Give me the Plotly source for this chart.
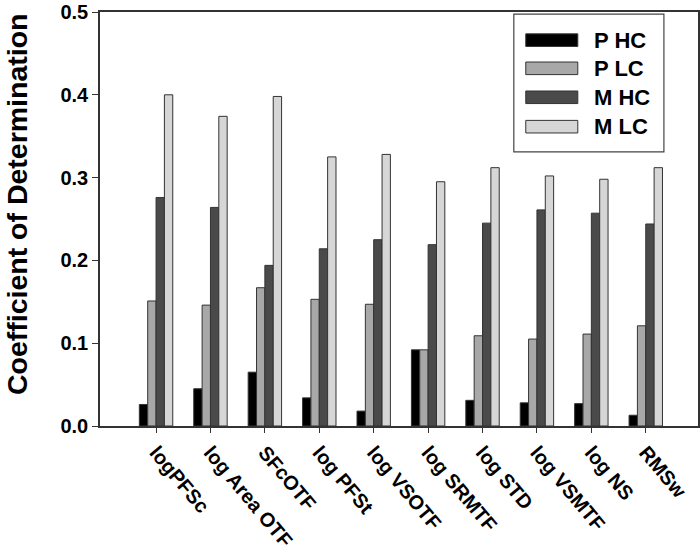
import plotly.graph_objects as go

categories = ["logPFSc", "log Area OTF", "SFcOTF", "log PFSt", "log VSOTF",
              "log SRMTF", "log STD", "log VSMTF", "log NS", "RMSw"]
series_names = ["P HC", "P LC", "M HC", "M LC"]
p_hc = [0.026, 0.045, 0.065, 0.034, 0.018, 0.092, 0.031, 0.028, 0.027, 0.013]
p_lc = [0.151, 0.146, 0.167, 0.153, 0.147, 0.092, 0.109, 0.105, 0.111, 0.121]
m_hc = [0.276, 0.264, 0.194, 0.214, 0.225, 0.219, 0.245, 0.261, 0.257, 0.244]
m_lc = [0.400, 0.374, 0.398, 0.325, 0.328, 0.295, 0.312, 0.302, 0.298, 0.312]
y_ticks = [0.0, 0.1, 0.2, 0.3, 0.4, 0.5]
y_ticklabels = ["0.0", "0.1", "0.2", "0.3", "0.4", "0.5"]
y_title = "Coefficient of Determination"

colors = ["#000000", "#a8a8a8", "#4a4a4a", "#d6d6d6"]
values = [p_hc, p_lc, m_hc, m_lc]

FONT = "Liberation Sans, Arial, sans-serif"

fig = go.Figure()
for name, vals, col in zip(series_names, values, colors):
    fig.add_trace(go.Bar(
        x=categories, y=vals, name=name, showlegend=False,
        marker=dict(color=col, line=dict(color="#333333", width=1)),
    ))

# custom legend (wide swatches like the original)
box = dict(x0=0.692, x1=0.943, y0=0.662, y1=0.995)
fig.add_shape(type="rect", xref="paper", yref="paper", **box,
              line=dict(color="#444444", width=1.2), fillcolor="white")
row_y = [0.932, 0.864, 0.794, 0.723]
hh = 0.0152
for name, col, yc in zip(series_names, colors, row_y):
    fig.add_shape(type="rect", xref="paper", yref="paper",
                  x0=0.712, x1=0.799, y0=yc - hh, y1=yc + hh,
                  fillcolor=col, line=dict(color="#333333", width=1))
    fig.add_annotation(xref="paper", yref="paper", x=0.823, y=yc,
                       text=name, showarrow=False, xanchor="left", yanchor="middle",
                       font=dict(family=FONT, size=22, color="black", weight="bold"))

# y-axis title
fig.add_annotation(xref="paper", yref="paper", x=-0.1388, y=0.536,
                   text=y_title, textangle=-90, showarrow=False,
                   xanchor="center", yanchor="middle",
                   font=dict(family=FONT, size=28.5, color="black", weight="bold"))

fig.update_layout(
    width=700, height=553,
    margin=dict(l=100, r=2, t=12, b=127, autoexpand=False),
    plot_bgcolor="white", paper_bgcolor="white",
    barmode="group", bargap=0.386, bargroupgap=0,
    font=dict(family=FONT, color="black"),
)
fig.update_xaxes(
    type="category", range=[-1.03, 9.96], automargin=False,
    showline=True, linecolor="#333333", linewidth=1.5, mirror=True,
    ticks="outside", ticklen=5, tickcolor="#333333", tickwidth=1,
    tickangle=50, showgrid=False, ticklabeloverflow="allow",
    tickfont=dict(family=FONT, size=20, color="black", weight="bold"),
)
fig.update_yaxes(
    range=[0, 0.5], tickvals=y_ticks, ticktext=y_ticklabels, automargin=False,
    showline=True, linecolor="#333333", linewidth=1.5, mirror=True,
    ticks="outside", ticklen=6, tickcolor="#333333", tickwidth=1,
    showgrid=False, zeroline=False, ticklabeloverflow="allow",
    tickfont=dict(family=FONT, size=20, color="black", weight="bold"),
)

fig.write_html("out.html", config={"displayModeBar": False},
               post_script="document.body.style.margin='0px';document.body.style.overflow='hidden';")
